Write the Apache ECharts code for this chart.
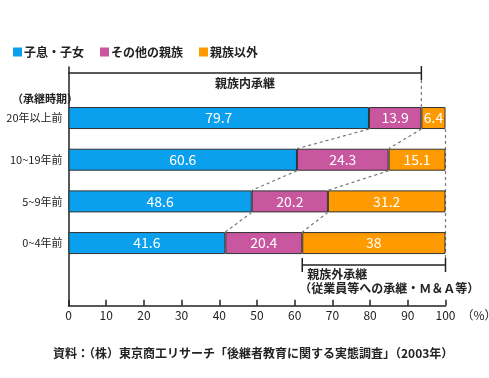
<!DOCTYPE html>
<html><head><meta charset="utf-8">
<script src="https://cdn.jsdelivr.net/npm/echarts@6/dist/echarts.min.js"></script>
<style>html,body{margin:0;padding:0;background:#fff}#c{width:489px;height:378px}</style>
</head><body><div id="c"></div>
<script>
const categories = ['20年以上前', '10~19年前', '5~9年前', '0~4年前'];
const seriesNames = ['子息・子女', 'その他の親族', '親族以外'];
const childValues = [79.7, 60.6, 48.6, 41.6];
const relativeValues = [13.9, 24.3, 20.2, 20.4];
const otherValues = [6.4, 15.1, 31.2, 38];
const axisMin = 0, axisMax = 100, axisStep = 10;
const periodLabel = '（承継時期）';
const innerLabel = '親族内承継';
const outerLabel1 = '親族外承継';
const outerLabel2 = '（従業員等への承継・Ｍ＆Ａ等）';
const sourceText = '資料：（株）東京商工リサーチ「後継者教育に関する実態調査」（2003年）';

const colors = ['#0aa0ee', '#c8579f', '#ff9a00'];
const FONT = '"Noto Sans CJK JP", "Noto Sans", sans-serif';
const BAR_W = 22;
const INK = '#222';

function renderOverlay(params, api) {
  const children = [];
  const half = BAR_W / 2;
  const line = (x1, y1, x2, y2, dashed) => ({
    type: 'line', shape: { x1, y1, x2, y2 },
    style: { stroke: dashed ? '#777' : INK, lineWidth: dashed ? 1.2 : 1.5, lineDash: dashed ? [3, 3] : null }
  });
  const text = (x, y, t, align) => ({
    type: 'text', x, y,
    style: { text: t, fontFamily: FONT, fontSize: 12, fontWeight: 'bold', fill: INK, align: align, verticalAlign: 'middle' }
  });
  const cum1 = childValues;
  const cum2 = childValues.map((v, i) => v + relativeValues[i]);
  for (let i = 0; i < categories.length - 1; i++) {
    const yB = api.coord([0, i])[1] + half;
    const yT = api.coord([0, i + 1])[1] - half;
    [cum1, cum2].forEach(c => {
      children.push(line(api.coord([c[i], i])[0], yB, api.coord([c[i + 1], i + 1])[0], yT, true));
    });
  }
  const y0 = api.coord([0, 0])[1];
  const yTop = y0 - 45;
  const xA = api.coord([axisMin, 0])[0];
  const xB = api.coord([cum2[0], 0])[0];
  children.push(line(xA, yTop, xB, yTop));
  children.push(line(xB, yTop - 7, xB, yTop + 7));
  children.push(line(xB, yTop + 7, xB, y0 - half, true));
  children.push(text((xA + xB) / 2, yTop + 10, innerLabel, 'center'));

  const n = categories.length - 1;
  const y3 = api.coord([0, n])[1];
  const yBot = y3 + 22;
  const xC = api.coord([cum2[n], n])[0];
  const xD = api.coord([axisMax, n])[0];
  children.push(line(xD, y0 + half, xD, yBot - 7, true));
  children.push(line(xC, yBot, xD, yBot));
  children.push(line(xC, yBot - 7, xC, yBot + 7));
  children.push(line(xD, yBot - 7, xD, yBot + 7));
  children.push(text(xC + 5, yBot + 9, outerLabel1, 'left'));
  children.push(text(xC - 3, yBot + 23, outerLabel2, 'left'));
  return { type: 'group', children };
}

const valuesList = [childValues, relativeValues, otherValues];
const barSeries = seriesNames.map((name, k) => ({
  name, type: 'bar', stack: 'total', xAxisIndex: 0, yAxisIndex: 0,
  barWidth: BAR_W, z: 3,
  data: valuesList[k],
  itemStyle: { color: colors[k], borderColor: '#333', borderWidth: 1 },
  label: { show: true, position: 'inside', color: '#fff', fontSize: 14, fontFamily: FONT, formatter: '{c}' }
}));

const chart = echarts.init(document.getElementById('c'), null, { renderer: 'canvas' });
chart.setOption({
  animation: false,
  backgroundColor: '#fff',
  textStyle: { fontFamily: FONT },
  title: [
    { text: periodLabel, left: 7, top: 88, textStyle: { fontSize: 11, fontWeight: 'bold', color: INK, fontFamily: FONT } },
    { text: sourceText, left: 48, top: 342, textStyle: { fontSize: 12, fontWeight: 'bold', color: INK, fontFamily: FONT } }
  ],
  legend: {
    left: 8, top: 41, itemWidth: 9, itemHeight: 9, itemGap: 16, icon: 'rect',
    itemStyle: { borderWidth: 0 },
    textStyle: { fontSize: 12, fontWeight: 'bold', color: INK, fontFamily: FONT, padding: [0, 0, 0, -3] },
    data: seriesNames
  },
  grid: [
    { left: 68.5, right: 43.5, top: 97.2, bottom: 114.1, outerBoundsMode: 'none', containLabel: false },
    { left: 68.5, right: 43.5, top: 67, bottom: 72.3, outerBoundsMode: 'none', containLabel: false }
  ],
  xAxis: [
    { type: 'value', gridIndex: 0, min: axisMin, max: axisMax, interval: axisStep, show: false },
    {
      type: 'value', gridIndex: 1, min: axisMin, max: axisMax, interval: axisStep,
      axisLine: { show: true, onZero: false, lineStyle: { color: INK, width: 1.5 } },
      axisTick: { show: true, inside: true, length: 6, lineStyle: { color: INK, width: 1.5 } },
      axisLabel: { fontSize: 12, color: INK, margin: 4, fontFamily: FONT },
      splitLine: { show: false },
      name: '（%）', nameLocation: 'end', nameGap: 8,
      nameTextStyle: { fontSize: 12, color: INK, verticalAlign: 'top', padding: [4, 0, 0, 0], fontFamily: FONT }
    }
  ],
  yAxis: [
    {
      type: 'category', gridIndex: 0, data: categories, inverse: true,
      axisLine: { show: false }, axisTick: { show: false },
      axisLabel: { fontSize: 11, color: INK, margin: 6, fontFamily: FONT }
    },
    {
      type: 'value', gridIndex: 1, min: 0, max: 1,
      axisLine: { show: true, onZero: false, lineStyle: { color: INK, width: 1.5 } },
      axisTick: { show: false }, axisLabel: { show: false }, splitLine: { show: false }
    }
  ],
  series: barSeries.concat([{
    type: 'custom', xAxisIndex: 0, yAxisIndex: 0, z: 1, silent: true, clip: false,
    renderItem: renderOverlay, data: [[0, 0]]
  }])
});
</script></body></html>
